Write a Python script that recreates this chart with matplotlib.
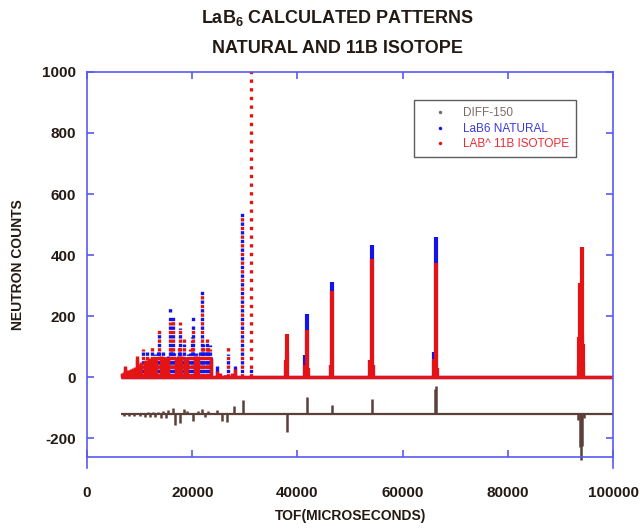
import matplotlib
matplotlib.use("Agg")
import matplotlib.pyplot as plt
from matplotlib.lines import Line2D

plt.rcParams['font.family'] = ['Liberation Sans', 'DejaVu Sans']
plt.rcParams['mathtext.fontset'] = 'custom'
plt.rcParams['mathtext.rm'] = 'Liberation Sans:bold'
plt.rcParams['mathtext.bf'] = 'Liberation Sans:bold'
plt.rcParams['axes.unicode_minus'] = False

# ---- data ----
TOF_START = 6500
TOF_END = 100000
DIFF_BASE = -122

# low-TOF cluster (many overlapping reflections)
cluster_tof = [6700, 7000, 7220, 7500, 7800, 8170, 8450, 8750, 9050, 9450,
               9750, 10050, 10350, 10700, 11000, 11250, 11460, 11750, 12050, 12300,
               12600, 12850, 13150, 13450, 13740, 14050, 14300, 14500, 14800, 15100,
               15400, 15780, 16000, 16290, 16600, 16900, 17200, 17450, 17680, 17950,
               18200, 18440, 18700, 18950, 19250, 19580, 19900, 20210, 20500, 20800,
               21100, 21450, 21800, 22100, 22400, 22760, 23000, 23380, 23650, 24770,
               25300, 26300, 26860, 27500, 28140, 29400, 31100]
cluster_natural = [10, 14, 30, 18, 16, 20, 24, 28, 26, 60,
                   32, 36, 45, 88, 48, 52, 93, 55, 58, 100,
                   62, 75, 60, 85, 140, 64, 66, 82, 58, 65,
                   70, 236, 90, 209, 78, 64, 70, 90, 160, 66,
                   72, 110, 60, 66, 75, 80, 130, 199, 70, 80,
                   62, 90, 287, 110, 88, 120, 95, 105, 65, 35,
                   8, 6, 75, 10, 36, 550, 30]
cluster_isotope = [12, 16, 36, 20, 22, 23, 26, 30, 34, 68,
                   38, 42, 50, 93, 52, 56, 86, 60, 62, 110,
                   58, 70, 64, 80, 153, 68, 60, 76, 62, 66,
                   66, 180, 100, 190, 70, 66, 62, 100, 180, 70,
                   76, 126, 64, 60, 70, 93, 120, 170, 66, 70,
                   68, 85, 270, 100, 80, 131, 100, 93, 60, 20,
                   12, 8, 98, 12, 25, 530, 1100]

# well separated high-TOF reflections (with their wings)
main_tof = [37800, 38100, 41450, 41750, 42050, 46350, 46640, 53850, 54120, 54400,
            66000, 66290, 66600, 93450, 93750, 94000, 94250]
main_natural = [40, 82, 72, 207, 30, 39, 311, 55, 433, 39,
                82, 460, 30, 40, 120, 137, 50]
main_isotope = [55, 141, 40, 154, 30, 39, 283, 55, 386, 39,
                60, 375, 30, 130, 308, 427, 110]

# difference curve (offset)
diff_tof = [7000, 7500, 8000, 8500, 9000, 9500, 10000, 10500, 11000, 11500,
            12000, 12500, 13000, 13500, 14000, 14500, 15000, 15400, 16400, 16730,
            17680, 18440, 19000, 20150, 21100, 21800, 22500, 23000, 24650, 25600,
            26560, 27950, 29720, 38100, 41750, 46640, 54120, 66100, 66290,
            93350, 93650, 93900, 94150, 94450]
diff_counts = [-126, -119, -127, -118, -128, -117, -129, -116, -130, -115,
               -130, -114, -131, -113, -133, -110, -135, -108, -100, -156,
               -151, -105, -110, -143, -111, -104, -130, -112, -107, -143,
               -147, -96, -76, -181, -65, -93, -71, -40, -30,
               -140, -230, -271, -225, -135]

BLUE = '#1414e6'
RED = '#e41414'
BROWN = '#5a4038'
SPINE = '#5a5af2'
LABEL = '#241a14'

fig = plt.figure(figsize=(6.4, 5.29), dpi=100)
ax = fig.add_axes([0.136, 0.136, 0.822, 0.728])

# split cluster reflections: low ones merge into a solid band, tall ones show the sampled points
low = [i for i, (n, r) in enumerate(zip(cluster_natural, cluster_isotope)) if max(n, r) <= 70]
tall = [i for i in range(len(cluster_tof)) if i not in low]

dots_blue = [(1.3, (1, 1.6))]
dots_red = [(0, (1, 1.6))]

# natural (blue) underneath
ax.hlines(0, TOF_START, TOF_END, color=BLUE, lw=2.4)
ax.vlines([cluster_tof[i] for i in low], 0, [cluster_natural[i] for i in low], color=BLUE, lw=2.4)
ax.vlines([cluster_tof[i] for i in tall], 0, [cluster_natural[i] for i in tall],
          color=BLUE, lw=2.4, linestyles=dots_blue)
ax.vlines(main_tof, 0, main_natural, color=BLUE, lw=3)

# 11B isotope (red) on top
ax.hlines(0, TOF_START, TOF_END, color=RED, lw=2.4)
ax.vlines([cluster_tof[i] for i in low], 0, [cluster_isotope[i] for i in low], color=RED, lw=2.4)
ax.vlines([cluster_tof[i] for i in tall], 0, [cluster_isotope[i] for i in tall],
          color=RED, lw=2.4, linestyles=dots_red)
ax.vlines(main_tof, 0, main_isotope, color=RED, lw=3)

# difference
ax.hlines(DIFF_BASE, TOF_START, TOF_END, color=BROWN, lw=1.6)
ax.vlines(diff_tof, DIFF_BASE, diff_counts, color=BROWN, lw=1.8, clip_on=False)

ax.set_xlim(0, 100000)
ax.set_ylim(-262, 1000)
ax.set_xticks([0, 20000, 40000, 60000, 80000, 100000])
ax.set_yticks([-200, 0, 200, 400, 600, 800, 1000])

for side in ['left', 'right', 'top', 'bottom']:
    ax.spines[side].set_color(SPINE)
    ax.spines[side].set_linewidth(1.2)
ax.spines['left'].set_bounds(-298, 1000)
ax.spines['right'].set_bounds(-298, 1000)

ax.tick_params(direction='in', length=5, width=1.2, color=SPINE, top=True, right=True,
               labelsize=11, labelcolor=LABEL)
ax.tick_params(axis='x', pad=21)
ax.tick_params(axis='y', pad=8)
for lbl in ax.get_xticklabels() + ax.get_yticklabels():
    lbl.set_fontweight('bold')

ax.set_xlabel('TOF(MICROSECONDS)', fontsize=10, fontweight='bold', color=LABEL, labelpad=6)
ax.set_ylabel('NEUTRON COUNTS', fontsize=10, fontweight='bold', color=LABEL, labelpad=12)

fig.text(0.528, 1 - 23.3 / 529, 'LaB$_{6}$ CALCULATED PATTERNS', ha='center', va='baseline',
         fontsize=13, fontweight='bold', color=LABEL)
fig.text(0.528, 1 - 53.3 / 529, 'NATURAL AND 11B ISOTOPE', ha='center', va='baseline',
         fontsize=13, fontweight='bold', color=LABEL)

handles = [Line2D([], [], ls='none', marker='o', ms=2.5, color='#7a6a66', mec='none'),
           Line2D([], [], ls='none', marker='o', ms=2.5, color=BLUE, mec='none'),
           Line2D([], [], ls='none', marker='o', ms=2.5, color=RED, mec='none')]
leg = ax.legend(handles, ['DIFF-150', 'LaB6 NATURAL', 'LAB^ 11B ISOTOPE'],
                loc='upper left', bbox_to_anchor=(0.622, 0.927), fontsize=8.5,
                labelcolor=['#7a6a66', '#3a3ae0', '#ee2a36'],
                fancybox=False, edgecolor='#333333', borderpad=0.6, handlelength=3.2,
                handletextpad=0.3, labelspacing=0.3, borderaxespad=0)
leg.get_frame().set_linewidth(1.0)

fig.savefig('out.png', dpi=100)
